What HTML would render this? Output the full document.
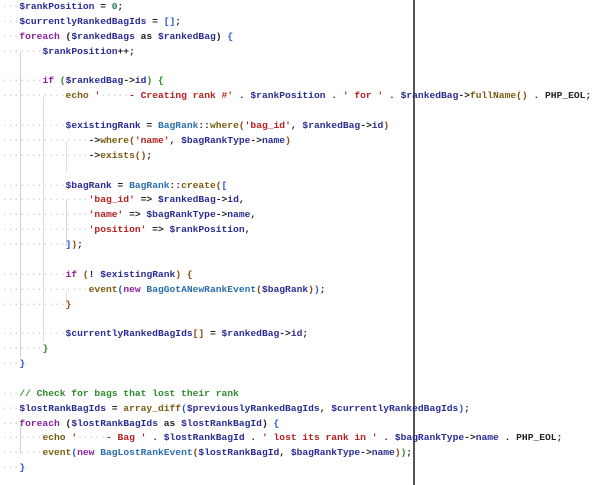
<!DOCTYPE html>
<html><head><style>
body{margin:0;width:600px;height:485px;background:#fff;overflow:hidden;position:relative}
pre{margin:0;position:absolute;left:2px;top:0;font-family:"Liberation Mono",monospace;font-size:9.65px;line-height:14.87px;color:#222;font-weight:bold}
.v{color:#2b2b95}.k{color:#8a1fa0}.s{color:#b52020}.f{color:#7a5c10}.c{color:#2a6fb0}.n{color:#1f7f4f}.cm{color:#2e8b2e}.d{color:#cacaca;font-weight:normal}.g{color:#2e8b2e}.b{color:#2b55d0}.o{color:#8a4a10}
.gl{position:absolute;width:1px}
</style></head><body>
<div class="gl" style="left:20px;top:52px;height:305px;background:#c8d0f0"></div>
<div class="gl" style="left:43px;top:97px;height:245px;background:#cfe6cf"></div>
<div class="gl" style="left:66px;top:142px;height:30px;background:#e0e0e0"></div>
<div class="gl" style="left:66px;top:201px;height:45px;background:#d0d0ee"></div>
<div class="gl" style="left:66px;top:290px;height:15px;background:#eedcdc"></div>
<div class="gl" style="left:20px;top:424px;height:30px;background:#c8d0f0"></div>
<div style="position:absolute;left:413px;top:0;width:1.5px;height:485px;background:#555"></div>
<pre><span class="d">···</span><span class="v">$rankPosition</span> = <span class="n">0</span>;
<span class="d">···</span><span class="v">$currentlyRankedBagIds</span> = <span class="b">[]</span>;
<span class="d">···</span><span class="k">foreach</span> (<span class="v">$rankedBags</span> as <span class="v">$rankedBag</span>) <span class="b">{</span>
<span class="d">·······</span><span class="v">$rankPosition</span>++;

<span class="d">·······</span><span class="k">if</span> <span class="g">(</span><span class="v">$rankedBag</span>-><span class="v">id</span><span class="g">)</span> <span class="g">{</span>
<span class="d">···········</span><span class="f">echo</span> <span class="s">'</span><span class="d">·····</span><span class="s">- Creating rank #'</span> . <span class="v">$rankPosition</span> . <span class="s">' for '</span> . <span class="v">$rankedBag</span>-><span class="f">fullName</span><span class="o">()</span> . PHP_EOL;

<span class="d">···········</span><span class="v">$existingRank</span> = <span class="c">BagRank</span>::<span class="f">where</span><span class="o">(</span><span class="s">'bag_id'</span>, <span class="v">$rankedBag</span>-><span class="v">id</span><span class="o">)</span>
<span class="d">···············</span>-><span class="f">where</span><span class="o">(</span><span class="s">'name'</span>, <span class="v">$bagRankType</span>-><span class="v">name</span><span class="o">)</span>
<span class="d">···············</span>-><span class="f">exists</span><span class="o">()</span>;

<span class="d">···········</span><span class="v">$bagRank</span> = <span class="c">BagRank</span>::<span class="f">create</span><span class="o">(</span><span class="b">[</span>
<span class="d">···············</span><span class="s">'bag_id'</span> => <span class="v">$rankedBag</span>-><span class="v">id</span>,
<span class="d">···············</span><span class="s">'name'</span> => <span class="v">$bagRankType</span>-><span class="v">name</span>,
<span class="d">···············</span><span class="s">'position'</span> => <span class="v">$rankPosition</span>,
<span class="d">···········</span><span class="b">]</span><span class="o">)</span>;

<span class="d">···········</span><span class="k">if</span> <span class="o">(</span>! <span class="v">$existingRank</span><span class="o">)</span> <span class="o">{</span>
<span class="d">···············</span><span class="f">event</span><span class="b">(</span><span class="k">new</span> <span class="c">BagGotANewRankEvent</span><span class="o">(</span><span class="v">$bagRank</span><span class="o">)</span><span class="b">)</span>;
<span class="d">···········</span><span class="o">}</span>

<span class="d">···········</span><span class="v">$currentlyRankedBagIds</span><span class="o">[]</span> = <span class="v">$rankedBag</span>-><span class="v">id</span>;
<span class="d">·······</span><span class="g">}</span>
<span class="d">···</span><span class="b">}</span>

<span class="d">···</span><span class="cm">// Check for bags that lost their rank</span>
<span class="d">···</span><span class="v">$lostRankBagIds</span> = <span class="f">array_diff</span><span class="b">(</span><span class="v">$previouslyRankedBagIds</span>, <span class="v">$currentlyRankedBagIds</span><span class="b">)</span>;
<span class="d">···</span><span class="k">foreach</span> (<span class="v">$lostRankBagIds</span> as <span class="v">$lostRankBagId</span>) <span class="b">{</span>
<span class="d">·······</span><span class="f">echo</span> <span class="s">'</span><span class="d">·····</span><span class="s">- Bag '</span> . <span class="v">$lostRankBagId</span> . <span class="s">' lost its rank in '</span> . <span class="v">$bagRankType</span>-><span class="v">name</span> . PHP_EOL;
<span class="d">·······</span><span class="f">event</span><span class="b">(</span><span class="k">new</span> <span class="c">BagLostRankEvent</span><span class="o">(</span><span class="v">$lostRankBagId</span>, <span class="v">$bagRankType</span>-><span class="v">name</span><span class="o">)</span><span class="g">)</span>;
<span class="d">···</span><span class="b">}</span></pre>
</body></html>
